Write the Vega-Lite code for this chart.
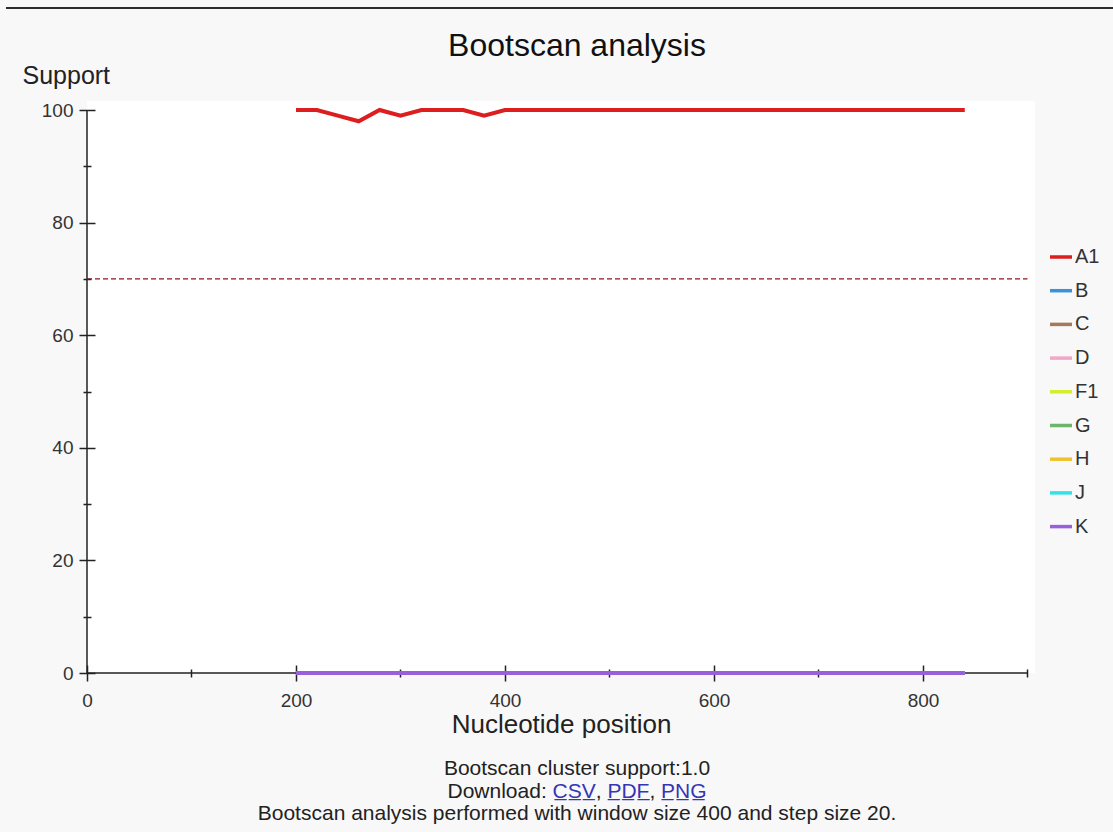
{
  "$schema": "https://vega.github.io/schema/vega-lite/v6.json",
  "autosize": {"type": "none"},
  "padding": {"left": 6, "top": 7, "right": 1107, "bottom": 825},
  "background": "#f8f8f8",
  "spacing": 92,
  "bounds": "flush",
  "center": true,
  "config": {"view": {"stroke": null}, "font": "Liberation Sans"},
  "datasets": {
    "scan": [
      {"pos": 200, "A1": 100, "B": 0, "C": 0, "D": 0, "F1": 0, "G": 0, "H": 0, "J": 0, "K": 0},
      {"pos": 220, "A1": 100, "B": 0, "C": 0, "D": 0, "F1": 0, "G": 0, "H": 0, "J": 0, "K": 0},
      {"pos": 240, "A1": 99, "B": 0, "C": 0, "D": 0, "F1": 0, "G": 0, "H": 0, "J": 0, "K": 0},
      {"pos": 260, "A1": 98, "B": 0, "C": 0, "D": 0, "F1": 0, "G": 0, "H": 0, "J": 0, "K": 0},
      {"pos": 280, "A1": 100, "B": 0, "C": 0, "D": 0, "F1": 0, "G": 0, "H": 0, "J": 0, "K": 0},
      {"pos": 300, "A1": 99, "B": 0, "C": 0, "D": 0, "F1": 0, "G": 0, "H": 0, "J": 0, "K": 0},
      {"pos": 320, "A1": 100, "B": 0, "C": 0, "D": 0, "F1": 0, "G": 0, "H": 0, "J": 0, "K": 0},
      {"pos": 340, "A1": 100, "B": 0, "C": 0, "D": 0, "F1": 0, "G": 0, "H": 0, "J": 0, "K": 0},
      {"pos": 360, "A1": 100, "B": 0, "C": 0, "D": 0, "F1": 0, "G": 0, "H": 0, "J": 0, "K": 0},
      {"pos": 380, "A1": 99, "B": 0, "C": 0, "D": 0, "F1": 0, "G": 0, "H": 0, "J": 0, "K": 0},
      {"pos": 400, "A1": 100, "B": 0, "C": 0, "D": 0, "F1": 0, "G": 0, "H": 0, "J": 0, "K": 0},
      {"pos": 420, "A1": 100, "B": 0, "C": 0, "D": 0, "F1": 0, "G": 0, "H": 0, "J": 0, "K": 0},
      {"pos": 440, "A1": 100, "B": 0, "C": 0, "D": 0, "F1": 0, "G": 0, "H": 0, "J": 0, "K": 0},
      {"pos": 460, "A1": 100, "B": 0, "C": 0, "D": 0, "F1": 0, "G": 0, "H": 0, "J": 0, "K": 0},
      {"pos": 480, "A1": 100, "B": 0, "C": 0, "D": 0, "F1": 0, "G": 0, "H": 0, "J": 0, "K": 0},
      {"pos": 500, "A1": 100, "B": 0, "C": 0, "D": 0, "F1": 0, "G": 0, "H": 0, "J": 0, "K": 0},
      {"pos": 520, "A1": 100, "B": 0, "C": 0, "D": 0, "F1": 0, "G": 0, "H": 0, "J": 0, "K": 0},
      {"pos": 540, "A1": 100, "B": 0, "C": 0, "D": 0, "F1": 0, "G": 0, "H": 0, "J": 0, "K": 0},
      {"pos": 560, "A1": 100, "B": 0, "C": 0, "D": 0, "F1": 0, "G": 0, "H": 0, "J": 0, "K": 0},
      {"pos": 580, "A1": 100, "B": 0, "C": 0, "D": 0, "F1": 0, "G": 0, "H": 0, "J": 0, "K": 0},
      {"pos": 600, "A1": 100, "B": 0, "C": 0, "D": 0, "F1": 0, "G": 0, "H": 0, "J": 0, "K": 0},
      {"pos": 620, "A1": 100, "B": 0, "C": 0, "D": 0, "F1": 0, "G": 0, "H": 0, "J": 0, "K": 0},
      {"pos": 640, "A1": 100, "B": 0, "C": 0, "D": 0, "F1": 0, "G": 0, "H": 0, "J": 0, "K": 0},
      {"pos": 660, "A1": 100, "B": 0, "C": 0, "D": 0, "F1": 0, "G": 0, "H": 0, "J": 0, "K": 0},
      {"pos": 680, "A1": 100, "B": 0, "C": 0, "D": 0, "F1": 0, "G": 0, "H": 0, "J": 0, "K": 0},
      {"pos": 700, "A1": 100, "B": 0, "C": 0, "D": 0, "F1": 0, "G": 0, "H": 0, "J": 0, "K": 0},
      {"pos": 720, "A1": 100, "B": 0, "C": 0, "D": 0, "F1": 0, "G": 0, "H": 0, "J": 0, "K": 0},
      {"pos": 740, "A1": 100, "B": 0, "C": 0, "D": 0, "F1": 0, "G": 0, "H": 0, "J": 0, "K": 0},
      {"pos": 760, "A1": 100, "B": 0, "C": 0, "D": 0, "F1": 0, "G": 0, "H": 0, "J": 0, "K": 0},
      {"pos": 780, "A1": 100, "B": 0, "C": 0, "D": 0, "F1": 0, "G": 0, "H": 0, "J": 0, "K": 0},
      {"pos": 800, "A1": 100, "B": 0, "C": 0, "D": 0, "F1": 0, "G": 0, "H": 0, "J": 0, "K": 0},
      {"pos": 820, "A1": 100, "B": 0, "C": 0, "D": 0, "F1": 0, "G": 0, "H": 0, "J": 0, "K": 0},
      {"pos": 840, "A1": 100, "B": 0, "C": 0, "D": 0, "F1": 0, "G": 0, "H": 0, "J": 0, "K": 0}
    ],
    "notes": [
      {"row": 1, "seg": "plain", "text": "Bootscan cluster support:1.0"},
      {"row": 2, "seg": "lead", "text": "Download:"},
      {"row": 2, "seg": "csv", "text": "C̲S̲V̲"},
      {"row": 2, "seg": "sep1", "text": ","},
      {"row": 2, "seg": "pdf", "text": "P̲D̲F̲"},
      {"row": 2, "seg": "sep2", "text": ","},
      {"row": 2, "seg": "png", "text": "P̲N̲G̲"},
      {"row": 3, "seg": "plain", "text": "Bootscan analysis performed with window size 400 and step size 20."}
    ]
  },
  "resolve": {"scale": {"color": "independent"}},
  "vconcat": [
    {
      "width": 1110,
      "height": 2,
      "view": {"fill": "#2b2b2b", "stroke": null},
      "title": {
        "text": "Bootscan analysis",
        "orient": "bottom",
        "frame": "group",
        "fontSize": 32,
        "font": "Liberation Sans",
        "fontWeight": "normal",
        "color": "#111",
        "anchor": "middle",
        "dx": 16,
        "offset": 22,
        "baseline": "top"
      },
      "data": {"values": []},
      "mark": "point"
    },
    {
      "width": 948,
      "height": 572,
      "view": {"fill": "white", "stroke": null},
      "resolve": {"axis": {"x": "independent", "y": "independent"}},
      "layer": [
        {
          "data": {"values": [{}]},
          "mark": {"type": "rule", "color": "#222", "strokeWidth": 1.5},
          "encoding": {
            "x": {
              "datum": 0,
              "type": "quantitative",
              "scale": {"domain": [0, 907.2], "nice": false},
              "axis": {
                "orient": "bottom",
                "values": [100, 300, 500, 700, 900],
                "offset": -4,
                "tickSize": 8,
                "tickColor": "#222",
                "tickWidth": 1.5,
                "labels": false,
                "domain": false,
                "grid": false,
                "title": null
              }
            },
            "x2": {"datum": 900},
            "y": {
              "datum": 0,
              "type": "quantitative",
              "scale": {"domain": [0, 101.6], "nice": false},
              "axis": null
            }
          }
        },
        {
          "data": {"values": [{}]},
          "mark": {"type": "rule", "color": "#222", "strokeWidth": 1.5},
          "encoding": {
            "x": {
              "datum": 0,
              "type": "quantitative",
              "scale": {"domain": [0, 907.2], "nice": false},
              "axis": null
            },
            "y": {
              "datum": 0,
              "type": "quantitative",
              "scale": {"domain": [0, 101.6], "nice": false},
              "axis": {
                "orient": "left",
                "values": [10, 30, 50, 70, 90],
                "offset": -4,
                "tickSize": 8,
                "tickColor": "#222",
                "tickWidth": 1.5,
                "labels": false,
                "domain": false,
                "grid": false,
                "title": null
              }
            },
            "y2": {"datum": 100}
          }
        },
        {
          "data": {"values": [{}]},
          "mark": {"type": "rule", "color": "#8e1424", "strokeWidth": 1.2, "strokeDash": [5, 3]},
          "encoding": {
            "x": {
              "datum": 0,
              "type": "quantitative",
              "scale": {"domain": [0, 907.2], "nice": false},
              "axis": null
            },
            "x2": {"datum": 900},
            "y": {
              "datum": 70,
              "type": "quantitative",
              "scale": {"domain": [0, 101.6], "nice": false},
              "axis": null
            }
          }
        },
        {
          "data": {"name": "scan"},
          "transform": [
            {"fold": ["A1", "B", "C", "D", "F1", "G", "H", "J", "K"], "as": ["strain", "support"]}
          ],
          "mark": {"type": "line", "strokeWidth": 4},
          "encoding": {
            "x": {
              "field": "pos",
              "type": "quantitative",
              "scale": {"domain": [0, 907.2], "nice": false},
              "axis": {
                "orient": "bottom",
                "values": [0, 200, 400, 600, 800],
                "format": "d",
                "offset": -8,
                "tickSize": 16,
                "tickColor": "#222",
                "tickWidth": 1.5,
                "domain": false,
                "grid": false,
                "labelFlush": false,
                "labelOverlap": false,
                "labelFontSize": 19,
                "labelColor": "#333",
                "labelPadding": 10,
                "title": "Nucleotide position",
                "titleFontSize": 26,
                "titleFontWeight": "normal",
                "titleColor": "#222",
                "titleBaseline": "alphabetic",
                "titleY": 67
              }
            },
            "y": {
              "field": "support",
              "type": "quantitative",
              "scale": {"domain": [0, 101.6], "nice": false},
              "axis": {
                "orient": "left",
                "values": [0, 20, 40, 60, 80, 100],
                "format": "d",
                "offset": -8,
                "tickSize": 16,
                "tickColor": "#222",
                "tickWidth": 1.5,
                "domain": false,
                "grid": false,
                "labelFlush": false,
                "labelOverlap": false,
                "labelFontSize": 19,
                "labelColor": "#333",
                "labelPadding": 6,
                "title": "Support",
                "titleFontSize": 25,
                "titleFontWeight": "normal",
                "titleColor": "#222",
                "titleAngle": 0,
                "titleAlign": "left",
                "titleBaseline": "alphabetic",
                "titleX": -73,
                "titleY": -18
              }
            },
            "color": {
              "field": "strain",
              "type": "nominal",
              "scale": {
                "domain": ["A1", "B", "C", "D", "F1", "G", "H", "J", "K"],
                "range": ["#dc1e1e", "#3a92d8", "#a47a5c", "#f2a6c8", "#d4ee2c", "#6cb66c", "#f0c22e", "#36e0e8", "#9a60dc"]
              },
              "legend": {
                "orient": "none",
                "legendX": 961,
                "legendY": 143,
                "title": null,
                "symbolType": "stroke",
                "symbolSize": 484,
                "symbolStrokeWidth": 3.5,
                "labelFontSize": 20,
                "labelColor": "#333",
                "labelOffset": 1,
                "rowPadding": 10.7
              }
            }
          }
        }
      ]
    },
    {
      "width": 1110,
      "height": 53,
      "data": {"name": "notes"},
      "encoding": {
        "y": {"field": "row", "type": "ordinal", "scale": {"padding": 0.18}, "axis": null}
      },
      "layer": [
        {
          "transform": [{"filter": "datum.seg === 'plain'"}],
          "mark": {"type": "text", "fontSize": 21, "color": "#222", "dx": 16},
          "encoding": {"text": {"field": "text"}}
        },
        {
          "transform": [{"filter": "datum.seg === 'lead'"}],
          "mark": {"type": "text", "fontSize": 21, "color": "#222", "align": "left", "dx": -113.5},
          "encoding": {"text": {"field": "text"}}
        },
        {
          "transform": [{"filter": "datum.seg === 'csv'"}],
          "mark": {"type": "text", "fontSize": 21, "color": "#3535b5", "align": "left", "dx": -8.5},
          "encoding": {"text": {"field": "text"}}
        },
        {
          "transform": [{"filter": "datum.seg === 'sep1'"}],
          "mark": {"type": "text", "fontSize": 21, "color": "#222", "align": "left", "dx": 34.7},
          "encoding": {"text": {"field": "text"}}
        },
        {
          "transform": [{"filter": "datum.seg === 'pdf'"}],
          "mark": {"type": "text", "fontSize": 21, "color": "#3535b5", "align": "left", "dx": 46.4},
          "encoding": {"text": {"field": "text"}}
        },
        {
          "transform": [{"filter": "datum.seg === 'sep2'"}],
          "mark": {"type": "text", "fontSize": 21, "color": "#222", "align": "left", "dx": 88.4},
          "encoding": {"text": {"field": "text"}}
        },
        {
          "transform": [{"filter": "datum.seg === 'png'"}],
          "mark": {"type": "text", "fontSize": 21, "color": "#3535b5", "align": "left", "dx": 100.1},
          "encoding": {"text": {"field": "text"}}
        }
      ]
    }
  ]
}
